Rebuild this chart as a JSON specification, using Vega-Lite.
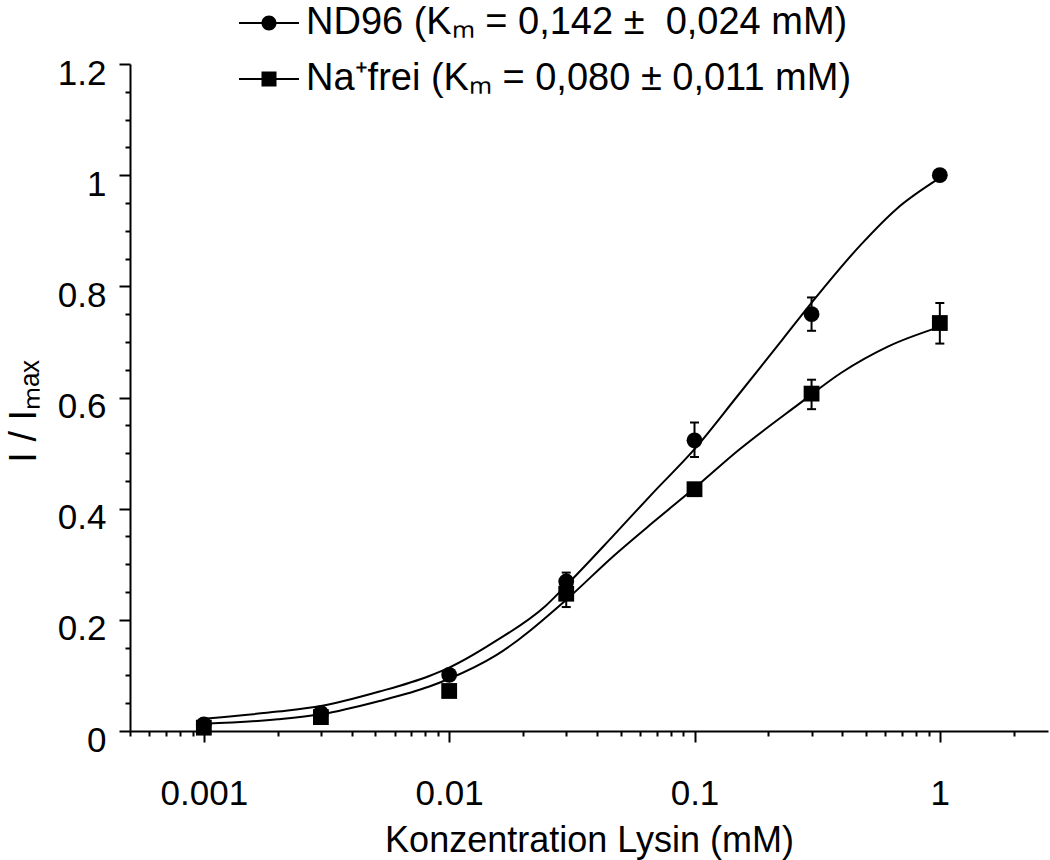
{
  "$schema": "https://vega.github.io/schema/vega-lite/v6.json",
  "autosize": {"type": "none"},
  "width": 918,
  "height": 667,
  "padding": {"left": 130, "top": 64, "right": 2, "bottom": 129},
  "background": "white",
  "config": {
    "view": {"stroke": null},
    "font": "Liberation Sans",
    "axis": {
      "domainColor": "black",
      "domainWidth": 2,
      "tickColor": "black",
      "tickWidth": 2,
      "labelColor": "black",
      "titleColor": "black",
      "labelFont": "Liberation Sans",
      "titleFont": "Liberation Sans",
      "titleFontWeight": "normal",
      "grid": false
    },
    "legend": {
      "labelFont": "Liberation Sans",
      "labelColor": "black"
    }
  },
  "datasets": {
    "points": [
      {"series": "ND96 (Kₘ = 0,142 ± \u00a00,024 mM)", "x": 0.001, "y": 0.012, "lo": null, "hi": null},
      {"series": "ND96 (Kₘ = 0,142 ± \u00a00,024 mM)", "x": 0.003, "y": 0.032, "lo": null, "hi": null},
      {"series": "ND96 (Kₘ = 0,142 ± \u00a00,024 mM)", "x": 0.01, "y": 0.101, "lo": null, "hi": null},
      {"series": "ND96 (Kₘ = 0,142 ± \u00a00,024 mM)", "x": 0.03, "y": 0.269, "lo": 0.253, "hi": 0.285},
      {"series": "ND96 (Kₘ = 0,142 ± \u00a00,024 mM)", "x": 0.1, "y": 0.523, "lo": 0.493, "hi": 0.555},
      {"series": "ND96 (Kₘ = 0,142 ± \u00a00,024 mM)", "x": 0.3, "y": 0.75, "lo": 0.72, "hi": 0.78},
      {"series": "ND96 (Kₘ = 0,142 ± \u00a00,024 mM)", "x": 1, "y": 1.0, "lo": null, "hi": null},
      {"series": "Na⁺frei (Kₘ = 0,080 ± 0,011 mM)", "x": 0.001, "y": 0.006, "lo": null, "hi": null},
      {"series": "Na⁺frei (Kₘ = 0,080 ± 0,011 mM)", "x": 0.003, "y": 0.025, "lo": null, "hi": null},
      {"series": "Na⁺frei (Kₘ = 0,080 ± 0,011 mM)", "x": 0.01, "y": 0.072, "lo": null, "hi": null},
      {"series": "Na⁺frei (Kₘ = 0,080 ± 0,011 mM)", "x": 0.03, "y": 0.247, "lo": 0.223, "hi": 0.271},
      {"series": "Na⁺frei (Kₘ = 0,080 ± 0,011 mM)", "x": 0.1, "y": 0.435, "lo": 0.427, "hi": 0.443},
      {"series": "Na⁺frei (Kₘ = 0,080 ± 0,011 mM)", "x": 0.3, "y": 0.607, "lo": 0.579, "hi": 0.632},
      {"series": "Na⁺frei (Kₘ = 0,080 ± 0,011 mM)", "x": 1, "y": 0.734, "lo": 0.697, "hi": 0.77}
    ],
    "curves": [
      {"series": "ND96", "x": 0.001, "y": 0.022},
      {"series": "ND96", "x": 0.002, "y": 0.035},
      {"series": "ND96", "x": 0.003, "y": 0.045},
      {"series": "ND96", "x": 0.0052, "y": 0.071},
      {"series": "ND96", "x": 0.0083, "y": 0.099},
      {"series": "ND96", "x": 0.01, "y": 0.114},
      {"series": "ND96", "x": 0.0155, "y": 0.162},
      {"series": "ND96", "x": 0.0247, "y": 0.225},
      {"series": "ND96", "x": 0.03, "y": 0.262},
      {"series": "ND96", "x": 0.0468, "y": 0.352},
      {"series": "ND96", "x": 0.0676, "y": 0.428},
      {"series": "ND96", "x": 0.1, "y": 0.507},
      {"series": "ND96", "x": 0.148, "y": 0.6},
      {"series": "ND96", "x": 0.19, "y": 0.66},
      {"series": "ND96", "x": 0.229, "y": 0.705},
      {"series": "ND96", "x": 0.302, "y": 0.772},
      {"series": "ND96", "x": 0.479, "y": 0.876},
      {"series": "ND96", "x": 0.661, "y": 0.938},
      {"series": "ND96", "x": 1.0, "y": 0.995},
      {"series": "Na", "x": 0.001, "y": 0.013},
      {"series": "Na", "x": 0.002, "y": 0.021},
      {"series": "Na", "x": 0.003, "y": 0.03},
      {"series": "Na", "x": 0.0052, "y": 0.054},
      {"series": "Na", "x": 0.0083, "y": 0.08},
      {"series": "Na", "x": 0.01, "y": 0.094},
      {"series": "Na", "x": 0.0155, "y": 0.136},
      {"series": "Na", "x": 0.03, "y": 0.236},
      {"series": "Na", "x": 0.0468, "y": 0.315},
      {"series": "Na", "x": 0.0676, "y": 0.375},
      {"series": "Na", "x": 0.1, "y": 0.437},
      {"series": "Na", "x": 0.151, "y": 0.505},
      {"series": "Na", "x": 0.266, "y": 0.588},
      {"series": "Na", "x": 0.398, "y": 0.645},
      {"series": "Na", "x": 0.617, "y": 0.692},
      {"series": "Na", "x": 1.0, "y": 0.727}
    ]
  },
  "encoding": {
    "x": {
      "field": "x",
      "type": "quantitative",
      "scale": {"type": "log", "domain": [0.0005, 2.76], "nice": false, "zero": false},
      "axis": {
        "title": "Konzentration Lysin (mM)",
        "titleFontSize": 36,
        "titlePadding": 12,
        "labelFontSize": 35,
        "labelPadding": 34,
        "values": [0.0005, 0.0006, 0.0007, 0.0008, 0.0009, 0.001, 0.002, 0.003, 0.004, 0.005, 0.006, 0.007, 0.008, 0.009, 0.01, 0.02, 0.03, 0.04, 0.05, 0.06, 0.07, 0.08, 0.09, 0.1, 0.2, 0.3, 0.4, 0.5, 0.6, 0.7, 0.8, 0.9, 1, 2],
        "labelExpr": "abs(log(datum.value)/LN10 - round(log(datum.value)/LN10)) < 0.001 ? format(datum.value, '~g') : ''",
        "tickSize": {"condition": {"test": "abs(log(datum.value)/LN10 - round(log(datum.value)/LN10)) < 0.001", "value": 11}, "value": 5},
        "labelFlush": false,
        "labelOverlap": false
      }
    },
    "y": {
      "field": "y",
      "type": "quantitative",
      "scale": {"domain": [0, 1.2], "nice": false, "zero": true},
      "axis": {
        "title": "I / Iₘₐₓ",
        "titleFontSize": 38,
        "titlePadding": 14,
        "titleY": 347,
        "labelFontSize": 35,
        "labelPadding": 13,
        "labelOffset": 9,
        "values": [0, 0.05, 0.1, 0.15, 0.2, 0.25, 0.3, 0.35, 0.4, 0.45, 0.5, 0.55, 0.6, 0.65, 0.7, 0.75, 0.8, 0.85, 0.9, 0.95, 1, 1.05, 1.1, 1.15, 1.2],
        "labelExpr": "abs(datum.value*5 - round(datum.value*5)) < 0.001 ? format(datum.value, '~g') : ''",
        "tickSize": {"condition": {"test": "abs(datum.value*5 - round(datum.value*5)) < 0.001", "value": 11}, "value": 5},
        "labelFlush": false,
        "labelOverlap": false
      }
    }
  },
  "layer": [
    {
      "data": {"name": "curves"},
      "mark": {"type": "line", "color": "black", "strokeWidth": 2, "interpolate": "monotone"},
      "encoding": {"detail": {"field": "series", "type": "nominal"}}
    },
    {
      "data": {"name": "points"},
      "transform": [{"filter": "datum.lo != null"}],
      "mark": {"type": "rule", "color": "black", "strokeWidth": 2},
      "encoding": {
        "y": {"field": "lo", "type": "quantitative"},
        "y2": {"field": "hi"}
      }
    },
    {
      "data": {"name": "points"},
      "transform": [{"filter": "datum.lo != null"}],
      "mark": {"type": "tick", "color": "black", "orient": "horizontal", "size": 9, "thickness": 2, "opacity": 1},
      "encoding": {
        "y": {"field": "lo", "type": "quantitative"}
      }
    },
    {
      "data": {"name": "points"},
      "transform": [{"filter": "datum.lo != null"}],
      "mark": {"type": "tick", "color": "black", "orient": "horizontal", "size": 9, "thickness": 2, "opacity": 1},
      "encoding": {
        "y": {"field": "hi", "type": "quantitative"}
      }
    },
    {
      "data": {"name": "points"},
      "mark": {"type": "point", "filled": true, "color": "black", "opacity": 1, "size": 250},
      "encoding": {
        "shape": {
          "condition": {"test": "indexof(datum.series, 'ND96') === 0", "value": "circle"},
          "value": "square"
        }
      }
    },
    {
      "data": {"name": "points"},
      "transform": [{"filter": "false"}],
      "mark": {"type": "point", "filled": true, "color": "black", "opacity": 1},
      "encoding": {
        "shape": {
          "field": "series",
          "type": "nominal",
          "scale": {
            "domain": ["ND96 (Kₘ = 0,142 ± \u00a00,024 mM)", "Na⁺frei (Kₘ = 0,080 ± 0,011 mM)"],
            "range": [
              "M-1,-0.035H-0.24V0.035H-1ZM0.24,-0.035H1V0.035H0.24ZM0.25,0A0.25,0.25,0,1,1,-0.25,0A0.25,0.25,0,1,1,0.25,0Z",
              "M-1,-0.035H-0.25V0.035H-1ZM0.25,-0.035H1V0.035H0.25ZM-0.25,-0.25H0.25V0.25H-0.25Z"
            ]
          },
          "legend": {
            "title": null,
            "orient": "none",
            "legendX": 108,
            "legendY": -72,
            "labelFontSize": 38,
            "labelOffset": 6,
            "labelLimit": 1000,
            "rowPadding": 6,
            "symbolSize": 3600,
            "symbolFillColor": "black",
            "symbolOpacity": 1
          }
        }
      }
    }
  ]
}
